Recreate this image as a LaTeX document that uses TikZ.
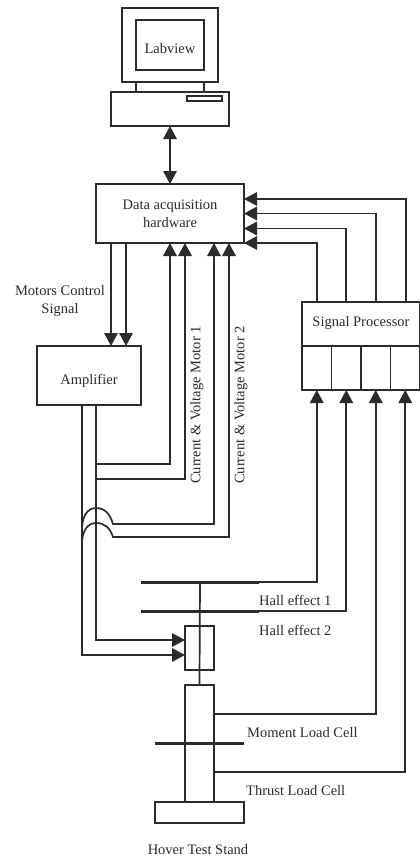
\documentclass[tikz,border=0pt]{standalone}
\usepackage{fontspec}
\setmainfont{Liberation Serif}
\usetikzlibrary{arrows.meta, positioning}
\definecolor{Ink}{HTML}{2B2B2B}
\tikzset{
  blockbox/.style={rectangle, draw=Ink, fill=white, line width=1.7pt, outer sep=0pt, inner sep=0pt,
                   minimum width=#1, align=center, text=Ink},
  barbox/.style={rectangle, fill=Ink, outer sep=0pt, inner sep=0pt,
                   minimum width=#1, minimum height=3pt},
  lbl/.style={font=\fontsize{14.5}{18}\selectfont, text=Ink, align=center, inner sep=0pt},
}
\begin{document}
\begin{tikzpicture}[
        x=1pt, y=-1pt,
        arr/.style={-{Triangle[length=13pt,width=13.5pt]}, line width=1.7pt, color=Ink},
        twoway/.style={{Triangle[length=13pt,width=13.5pt]}-{Triangle[length=13pt,width=13.5pt]}, line width=1.7pt, color=Ink},
        wire/.style={line width=1.7pt, color=Ink},
        node distance=10pt
      ]
        \useasboundingbox (0,0) rectangle (420,857);
        % Computer
        \node[blockbox=96pt, minimum height=74pt] (monitor) at (170,45) {};
        \node[blockbox=68pt, minimum height=50pt, lbl, text height=16pt, text depth=0pt] (screen) at (monitor.center) {Labview};
        \node[blockbox=118pt, minimum height=34pt, below=of monitor] (case) {};
        \node[blockbox=35pt, minimum height=4.5pt] (slot) at (204.5,98.5) {};
        \draw[wire] ([xshift=-34]monitor.south) -- ([xshift=-34]case.north);
        \draw[wire] ([xshift=34]monitor.south) -- ([xshift=34]case.north);
        % Main blocks
        \node[blockbox=148pt, minimum height=59pt, lbl, below=58pt of case] (daq) {Data acquisition\\hardware};
        \node[blockbox=104pt, minimum height=59pt, lbl, text height=17pt, text depth=0pt] (amp) at (89,375.5) {Amplifier};
        \node[blockbox=118pt, minimum height=44pt, lbl, text height=7pt, text depth=3pt] (sp) at (361,324) {Signal Processor};
        \node[blockbox=29.5pt, minimum height=44pt, below=0pt of sp.south west, anchor=north west] (sp1) {};
        \node[blockbox=29.5pt, minimum height=44pt, right=0pt of sp1] (sp2) {};
        \node[blockbox=29.5pt, minimum height=44pt, right=0pt of sp2] (sp3) {};
        \node[blockbox=29.5pt, minimum height=44pt, right=0pt of sp3] (sp4) {};
        % Test stand
        \node[barbox=118pt] (hall1) at (200,582) {};
        \node[barbox=118pt] (hall2) at (200,611) {};
        \node[blockbox=29pt, minimum height=117pt] (column) at (199.5,743.5) {};
        \node[blockbox=89pt, minimum height=21pt, below=0pt of column] (base) {};
        \node[barbox=89pt] (moment) at (199.5,743) {};
        \node[blockbox=29pt, minimum height=44pt, fill=none] (motor) at (199.5,648) {};
        \draw[wire] (hall1.center) -- (column.north);
        % Labels
        \node[lbl] (ctrl) at (60,301) {Motors Control\\Signal};
        \node[lbl, rotate=90] (cv1) at (197,405) {Current \& Voltage Motor 1};
        \node[lbl, rotate=90] (cv2) at (241,405) {Current \& Voltage Motor 2};
        \node[lbl, anchor=west] (hl1) at (259,600) {Hall effect 1};
        \node[lbl, anchor=west] (hl2) at (259,630) {Hall effect 2};
        \node[lbl, anchor=west] (ml) at (247,733) {Moment Load Cell};
        \node[lbl, anchor=west] (tl) at (246,791) {Thrust Load Cell};
        \node[lbl] (stand) at (198,850) {Hover Test Stand};
        % Computer link and control signals
        \draw[twoway] (case.south) -- (daq.north);
        \draw[arr] (daq.south -| 111,0) -- (amp.north -| 111,0);
        \draw[arr] (daq.south -| 126,0) -- (amp.north -| 126,0);
        % Amplifier to motor
        \coordinate (wireA) at ([xshift=-7]amp.south);
        \coordinate (wireB) at ([xshift=7]amp.south);
        \draw[arr] (wireB) |- ([yshift=8]motor.west);
        \draw[arr] (wireA) |- ([yshift=-7]motor.west);
        % Current and voltage
        \coordinate (tap1) at (96,464);
        \coordinate (tap2) at (96,479);
        \coordinate (hop1) at (82,527);
        \coordinate (hop2) at (82,541);
        \draw[arr] (tap1) -| ([xshift=0]daq.south);
        \draw[arr] (tap2) -| ([xshift=15]daq.south);
        \draw[arr] (hop1) .. controls (83,515) and (88,508) .. (96,508)
          .. controls (105,508) and (110,514) .. (113,524) -| ([xshift=44]daq.south);
        \draw[arr] (hop2) .. controls (83,530) and (88,523) .. (96,523)
          .. controls (105,523) and (110,528) .. (113,537) -| ([xshift=59]daq.south);
        % Signal processor to data acquisition
        \draw[arr] ([xshift=-44]sp.north) |- ([yshift=-29.5]daq.east);
        \draw[arr] ([xshift=-15]sp.north) |- ([yshift=-15]daq.east);
        \draw[arr] ([xshift=15]sp.north) |- ([yshift=0]daq.east);
        \draw[arr] ([xshift=45]sp.north) |- ([yshift=14.5]daq.east);
        % Sensors to signal processor
        \draw[arr] (hall1.east) -| (sp1.south);
        \draw[arr] (hall2.east) -| (sp2.south);
        \draw[arr] ([yshift=29.5]column.east) -| (sp3.south);
        \draw[arr] ([yshift=-28.5]column.east) -| (sp4.south);
      \end{tikzpicture}
\end{document}
